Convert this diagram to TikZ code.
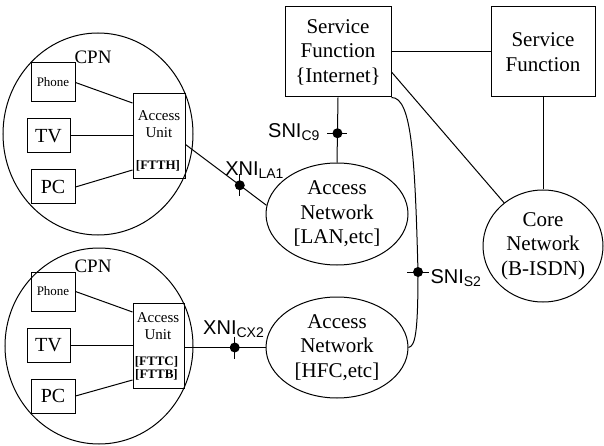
\documentclass[tikz,border=0pt]{standalone}
\usepackage{fontspec}
\setmainfont{Liberation Serif}
\setsansfont{Liberation Sans}
\usetikzlibrary{shapes.geometric}
\begin{document}
\begin{tikzpicture}[x=1pt, y=-1pt, line width=1pt]
        \tikzstyle{every node} = [align=center, inner sep=0pt]
        \tikzstyle{big} = [font=\fontsize{21}{24.5}\selectfont]
        \tikzstyle{box} = [draw, rectangle, big]
        \tikzstyle{cloud} = [draw, ellipse, big]
        \tikzstyle{cpn} = [draw, ellipse]
        \tikzstyle{dev} = [draw, rectangle, font=\fontsize{20}{22}\selectfont]
        \tikzstyle{phone} = [draw, rectangle, font=\fontsize{13}{15}\selectfont]
        \tikzstyle{unit} = [font=\fontsize{15}{17}\selectfont]
        \tikzstyle{tech} = [font=\fontsize{13}{13.5}\selectfont\bfseries]
        \tikzstyle{dot} = [circle, fill, minimum size=10pt]
        \tikzstyle{lbl} = [font=\sffamily\fontsize{20}{24}\selectfont]
        \useasboundingbox (0,0) rectangle (604,446);

        \node[box, minimum width=106, minimum height=90](sfi) at (338,52){Service\\Function\\\{Internet\}};
        \node[box, minimum width=104, minimum height=90](sfr) at (543,52){Service\\Function};
        \node[cloud, minimum width=142, minimum height=102](lan) at (337,214){Access\\Network\\{}[LAN,etc]};
        \node[cloud, minimum width=142, minimum height=101](hfc) at (337,347.5){Access\\Network\\{}[HFC,etc]};
        \node[cloud, minimum width=120, minimum height=112](core) at (543,246){Core\\Network\\(B-ISDN)};

        \node[cpn, minimum width=190, minimum height=202](cpa) at (98,134){};
        \node[font=\fontsize{19}{22}\selectfont](cpnla) at (93,57.5){CPN};
        \node[phone, minimum width=44, minimum height=39](pha) at (53,82.5){Phone};
        \node[dev, minimum width=43, minimum height=34](tva) at (48.5,136){TV};
        \node[dev, minimum width=44, minimum height=34](pca) at (53,187){PC};
        \node[draw, minimum width=52, minimum height=85](aua) at (159,136.5){};
        \node[unit](auta) at (159,124){Access\\Unit};
        \node[tech](teca) at (158,165.5){[FTTH]};

        \node[cpn, minimum width=188, minimum height=196](cpb) at (99,346){};
        \node[font=\fontsize{19}{22}\selectfont](cpnlb) at (93,266.5){CPN};
        \node[phone, minimum width=44, minimum height=39](phb) at (53,291.5){Phone};
        \node[dev, minimum width=43, minimum height=34](tvb) at (48.5,345){TV};
        \node[dev, minimum width=44, minimum height=34](pcb) at (53,396){PC};
        \node[draw, minimum width=51, minimum height=85](aub) at (158.5,345.5){};
        \node[unit](autb) at (158,326.5){Access\\Unit};
        \node[tech](tecb) at (156.5,368.5){[FTTC]\\{}[FTTB]};

        \draw (pha.east) -- ([yshift=33.5]aua.west);
        \draw (tva.east) -- (tva.east -| aua.west);
        \draw (pca.east) -- ([yshift=-33.5]aua.west);
        \draw (phb.east) -- ([yshift=33.5]aub.west);
        \draw (tvb.east) -- (tvb.east -| aub.west);
        \draw (pcb.east) -- ([yshift=-34.5]aub.west);

        \path ([yshift=-8]aua.east) edge node[pos=0.67, dot](xa){} (lan.173);
        \draw ([yshift=11]xa.center) -- ([yshift=-11]xa.center);
        \node[lbl, anchor=base west](xla) at ([xshift=-15, yshift=10]xa.center){XNI\textsubscript{LA1}};

        \path (hfc.west -| aub.east) edge node[pos=0.62, dot](xb){} (hfc.west);
        \draw ([yshift=11]xb.center) -- ([yshift=-11]xb.center);
        \node[lbl, anchor=base west](xlb) at ([xshift=-32, yshift=13]xb.center){XNI\textsubscript{CX2}};

        \path (sfi.south) edge node[pos=0.55, dot](sa){} (lan.north);
        \draw ([xshift=-10]sa.center) -- ([xshift=10]sa.center);
        \node[lbl, anchor=base east](sla) at ([xshift=-17, yshift=-4]sa.center){SNI\textsubscript{C9}};

        \coordinate (sb) at (418,272);
        \draw (sfi.south east) .. controls (412,97) and (415,160) .. (sb) .. controls (418,335) and (415,346) .. (hfc.east);
        \node[dot](sbd) at (sb){};
        \draw ([xshift=-11]sb) -- ([xshift=11]sb);
        \node[lbl, anchor=base west](slb) at ([xshift=12, yshift=-11]sb){SNI\textsubscript{S2}};

        \draw (sfi.east) -- (sfr.west);
        \draw ([yshift=-20]sfi.east) -- (core.132);
        \draw (sfr.south) -- (core.north);
\end{tikzpicture}
\end{document}
